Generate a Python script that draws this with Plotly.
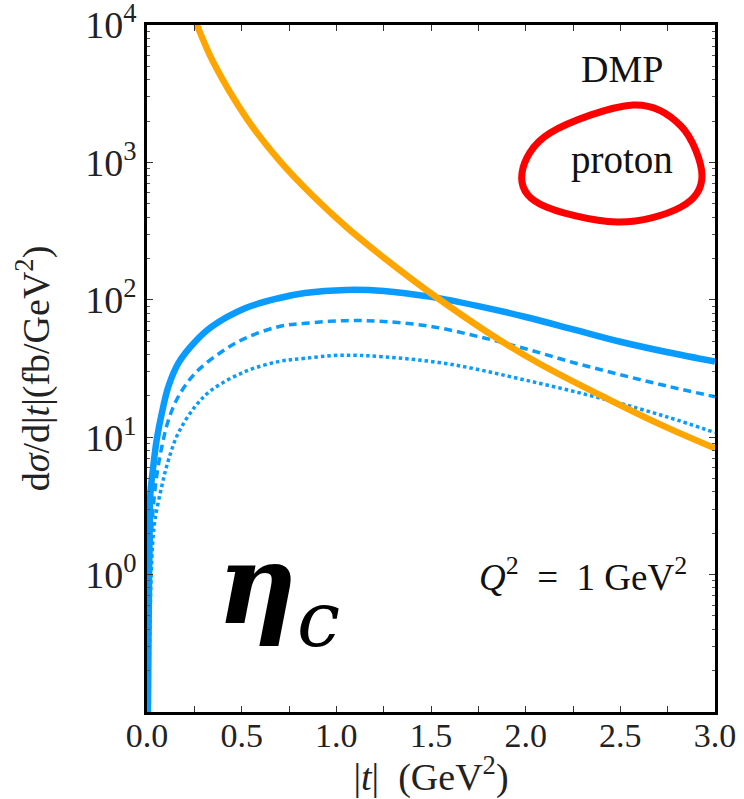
import plotly.graph_objects as go

# ---------------- data ----------------
t_solid = [0.005, 0.008, 0.011, 0.014, 0.018, 0.033, 0.051, 0.078, 0.113, 0.165, 0.254, 0.342, 0.518,
           0.694, 0.834, 1.05, 1.25, 1.5, 1.75, 2.0, 2.25, 2.5, 2.75, 3.0]
y_solid = [0.1, 0.35, 1.0, 2.2, 3.9, 6.1, 9.55, 14.9, 23.4, 34.5, 49.5, 63.7, 86.7,
           102.6, 112.0, 118.0, 116.0, 105.0, 90.0, 75.0, 61.0, 49.5, 41.5, 35.5]

t_dashed = [0.007, 0.01, 0.016, 0.024, 0.033, 0.051, 0.078, 0.113, 0.165, 0.254, 0.394, 0.518, 0.694,
            0.834, 1.05, 1.25, 1.5, 1.75, 2.0, 2.25, 2.5, 2.75, 3.0]
y_dashed = [0.1, 0.3, 1.0, 2.0, 3.1, 5.2, 8.5, 13.3, 19.7, 29.2, 41.9, 52.4, 63.7,
            67.4, 70.5, 69.5, 64.0, 54.0, 44.0, 35.0, 28.5, 23.5, 19.7]

t_dotted = [0.01, 0.015, 0.022, 0.03, 0.042, 0.078, 0.113, 0.165, 0.254, 0.342, 0.518, 0.694, 0.834,
            1.02, 1.25, 1.6, 2.0, 2.43, 2.75, 3.0]
y_dotted = [0.15, 0.4, 1.0, 1.7, 2.5, 4.4, 6.8, 10.7, 16.7, 22.1, 30.0, 35.5, 37.5,
            39.5, 38.5, 34.0, 26.0, 18.7, 14.0, 10.8]

t_orange = [0.25, 0.264, 0.349, 0.528, 0.702, 0.877, 1.056, 1.231, 1.405, 1.532, 1.827, 2.076, 2.43, 2.71, 3.0]
y_orange = [11200, 10000, 5395, 2075, 1021, 569, 336, 213, 139, 103.5, 54.7, 34.1, 19.1, 12.4, 8.3]

x_tickvals = [0.0, 0.25, 0.5, 0.75, 1.0, 1.25, 1.5, 1.75, 2.0, 2.25, 2.5, 2.75, 3.0]
x_ticktext = ["0.0", "", "0.5", "", "1.0", "", "1.5", "", "2.0", "", "2.5", "", "3.0"]
y_tickvals = [1, 10, 100, 1000, 10000]
y_ticktext = ["10<sup>0</sup>", "10<sup>1</sup>", "10<sup>2</sup>", "10<sup>3</sup>", "10<sup>4</sup>"]

BLUE = "#0a9bff"
ORANGE = "#ffa500"
RED = "#ff0000"
FONT = "Liberation Serif"

W, H = 744, 799
# plot area in pixels
L, R, T, B = 147, 715, 25, 712


def px2paper(px, py):
    return (px - L) / (R - L), (B - py) / (B - T)


fig = go.Figure()
fig.add_trace(go.Scatter(x=t_dotted, y=y_dotted, mode="lines",
                         line=dict(color=BLUE, width=3.5, dash="3.5px,3px", shape="spline", smoothing=1.0)))
fig.add_trace(go.Scatter(x=t_dashed, y=y_dashed, mode="lines",
                         line=dict(color=BLUE, width=3.5, dash="8px,5px", shape="spline", smoothing=1.0)))
fig.add_trace(go.Scatter(x=t_solid, y=y_solid, mode="lines",
                         line=dict(color=BLUE, width=6.5, shape="spline", smoothing=1.0)))
fig.add_trace(go.Scatter(x=t_orange, y=y_orange, mode="lines",
                         line=dict(color=ORANGE, width=6.5, shape="spline", smoothing=1.0)))

# red hand-drawn loop around "proton" (closed Catmull-Rom -> cubic Bezier)
loop_px = [(522, 173), (550, 133), (633, 105), (681, 126), (702, 176),
           (681, 207), (617, 222), (540, 204)]
pts = [px2paper(*p) for p in loop_px]
n = len(pts)
path = "M {:.4f},{:.4f}".format(*pts[0])
for i in range(n):
    p0, p1, p2, p3 = pts[i - 1], pts[i], pts[(i + 1) % n], pts[(i + 2) % n]
    c1 = (p1[0] + (p2[0] - p0[0]) / 6, p1[1] + (p2[1] - p0[1]) / 6)
    c2 = (p2[0] - (p3[0] - p1[0]) / 6, p2[1] - (p3[1] - p1[1]) / 6)
    path += " C {:.4f},{:.4f} {:.4f},{:.4f} {:.4f},{:.4f}".format(c1[0], c1[1], c2[0], c2[1], p2[0], p2[1])
path += " Z"
fig.add_shape(type="path", path=path, xref="paper", yref="paper",
              line=dict(color=RED, width=7), fillcolor="rgba(0,0,0,0)")

NB = "\u00a0"
ax, ay = px2paper(622, 69)
fig.add_annotation(x=ax, y=ay, xref="paper", yref="paper", xanchor="center", yanchor="middle",
                   text="DMP", showarrow=False,
                   font=dict(family=FONT, size=38, color="#111"))
ax, ay = px2paper(622, 160)
fig.add_annotation(x=ax, y=ay, xref="paper", yref="paper", xanchor="center", yanchor="middle",
                   text="proton", showarrow=False,
                   font=dict(family=FONT, size=39, color="#111"))
ax, ay = px2paper(583, 574)
fig.add_annotation(x=ax, y=ay, xref="paper", yref="paper", xanchor="center", yanchor="middle",
                   text="<i>Q</i><sup>2</sup>" + NB + NB + "=" + NB + NB + "1" + NB + "GeV<sup>2</sup>",
                   showarrow=False, font=dict(family=FONT, size=37, color="#111"))
ax, ay = px2paper(215, 592)
fig.add_annotation(x=ax, y=ay, xref="paper", yref="paper", xanchor="left", yanchor="middle",
                   text="<b><i>η</i></b><sub><i>c</i></sub>", showarrow=False,
                   font=dict(family="DejaVu Serif", size=110, color="black"))

fig.update_layout(
    width=W, height=H,
    margin=dict(l=L, r=W - R, t=T, b=H - B, autoexpand=False),
    plot_bgcolor="white", paper_bgcolor="white",
    showlegend=False,
    font=dict(family=FONT, color="black"),
)
fig.update_xaxes(
    range=[0, 3], tickmode="array", tickvals=x_tickvals, ticktext=x_ticktext,
    ticks="inside", ticklen=6, tickwidth=1, tickcolor="#333",
    showline=True, linewidth=2.5, linecolor="black", mirror="ticks",
    showgrid=False, zeroline=False, automargin=False, ticklabeloverflow="allow",
    tickfont=dict(family=FONT, size=34, color="#222"), ticklabelstandoff=-9,
    title=dict(text="|<i>t</i>|" + NB + NB + "(GeV<sup>2</sup>)", font=dict(family=FONT, size=38, color="#222"), standoff=0),
)
fig.update_yaxes(
    type="log", range=[-1, 4], tickmode="array", tickvals=y_tickvals, ticktext=y_ticktext,
    ticks="inside", ticklen=6, tickwidth=1, tickcolor="#333",
    minor=dict(ticks="inside", ticklen=3, tickwidth=1, tickcolor="#555", dtick="D1", showgrid=False),
    showline=True, linewidth=2.5, linecolor="black", mirror="ticks",
    showgrid=False, zeroline=False, automargin=False, ticklabeloverflow="allow",
    tickfont=dict(family=FONT, size=38, color="#222"), ticklabelstandoff=0,
    title=dict(text="d<i>σ</i>/d|<i>t</i>|(fb/GeV<sup>2</sup>)", font=dict(family=FONT, size=38, color="#222"), standoff=25),
)

fig.write_html("out.html", config={"displayModeBar": False},
               post_script="document.body.style.margin='0';")
